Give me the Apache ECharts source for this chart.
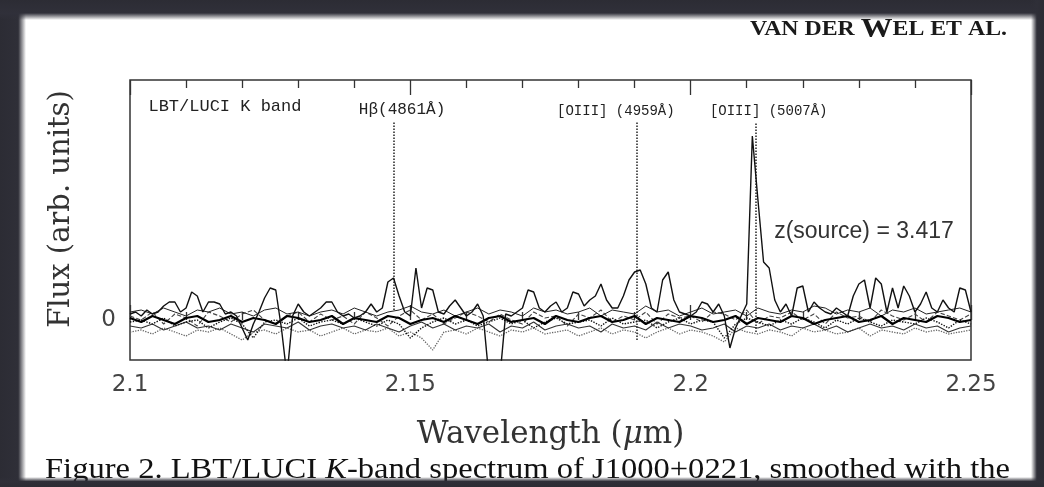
<!DOCTYPE html>
<html>
<head>
<meta charset="utf-8">
<script src="https://cdn.jsdelivr.net/npm/echarts@6/dist/echarts.min.js"></script>
<style>
  html, body { margin: 0; padding: 0; background: #fff; }
  #main { width: 1044px; height: 487px; }
</style>
</head>
<body>
<div id="main"></div>
<script>
// wavelength grids (micron)
var waveMain = Array.from({ length: 151 }, (_, i) => +(2.1 + i * 0.001).toFixed(3));
var waveNoise = Array.from({ length: 76 }, (_, i) => +(2.1 + i * 0.002).toFixed(3));

// main spectrum
var fluxMain = [
  0.15, 0.2, 0.1, 0.25, 0.15, 0.2, 0.35, 0.45, 0.45, 0.2,
  0.3, 0.7, 0.6, 0.2, 0.45, 0.45, 0.4, 0.15, 0.2, 0.1,
  -0.2, -0.5, -0.1, 0.2, 0.55, 0.8, 0.75, -0.2, -1.4, 0.1,
  0.4, 0.2, 0.1, 0.2, 0.3, 0.45, 0.45, 0.2, 0.1, 0.15,
  0.05, 0.1, 0.2, 0.4, 0.2, 0.3, 0.95, 1.05, 0.6, 0.2,
  0.1, 1.3, 0.3, 0.8, 0.75, 0.2, 0.15, 0.35, 0.5, 0.3,
  0.1, 0.2, 0.4, 0.1, -1.4, -1.4, -1.4, 0.15, 0.1, 0.2,
  0.3, 0.75, 0.7, 0.3, 0.2, 0.35, 0.45, 0.2, 0.3, 0.7,
  0.65, 0.35, 0.5, 0.6, 0.9, 0.5, 0.3, 0.3, 0.6, 1.0,
  1.2, 1.25, 0.9, 0.3, 0.2, 1.0, 1.2, 0.5, 0.2, 0.15,
  0.1, 0.2, 0.45, 0.4, 0.2, 0.4, 0.1, -0.7, -0.2, 0.1,
  0.4, 4.6, 3.0, 1.45, 1.3, 0.5, 0.2, 0.4, 0.1, 0.8,
  0.85, 0.2, 0.45, 0.3, 0.2, 0.15, 0.3, 0.2, 0.1, 0.6,
  0.9, 1.0, 0.3, 1.05, 0.9, 0.2, 0.8, 0.3, 0.85, 0.6,
  0.2, 0.4, 0.7, 0.3, 0.2, 0.5, 0.3, 0.2, 0.8, 0.75,
  0.2
];

// the other exposures, all near zero
var fluxN1 = [
  0.2, 0.25, 0.15, 0.3, 0.2, 0.1, 0.25, 0.2, 0.3, 0.15,
  0.2, 0.1, 0.25, 0.3, 0.15, 0.2, 0.1, 0.2, 0.25, 0.15,
  0.3, 0.2, 0.1, 0.2, 0.25, 0.35, 0.2, 0.15, 0.25, 0.1,
  0.2, 0.3, 0.15, 0.25, 0.2, 0.1, 0.3, 0.2, 0.25, 0.15,
  0.2, 0.3, 0.1, 0.25, 0.2, 0.15, 0.35, 0.2, 0.25, 0.1,
  0.2, 0.3, 0.15, 0.2, 0.25, 0.1, 0.3, 0.2, 0.15, 0.25,
  0.2, 0.35, 0.3, 0.15, 0.25, 0.2, 0.3, 0.1, 0.25, 0.2,
  0.3, 0.15, 0.2, 0.25, 0.3, 0.2
];
var fluxN2 = [
  0.05, -0.05, 0.1, 0, -0.1, 0.05, 0.1, -0.05, 0, 0.1,
  -0.05, 0.05, 0, -0.1, 0.1, 0.05, -0.05, 0, 0.1, -0.1,
  0.05, 0, -0.05, 0.1, 0.05, -0.1, 0, 0.05, -0.05, 0.1,
  0, -0.1, 0.05, 0.1, -0.05, 0, 0.05, -0.1, 0.1, 0,
  -0.05, 0.05, 0.1, -0.05, 0, 0.1, -0.1, 0.05, 0, -0.05,
  0.1, 0.05, -0.05, 0, 0.1, -0.1, 0.05, 0, -0.05, 0.1,
  0.05, -0.1, 0, 0.05, 0.1, -0.05, 0, 0.1, -0.1, 0.05,
  0, -0.05, 0.1, 0.05, -0.05, 0
];
var fluxN3 = [
  -0.15, -0.2, -0.1, -0.25, -0.15, -0.05, -0.2, -0.15, -0.25, -0.1,
  -0.2, -0.3, -0.1, -0.15, -0.2, -0.05, -0.25, -0.15, -0.1, -0.2,
  -0.15, -0.25, -0.1, -0.2, -0.3, -0.15, -0.05, -0.2, -0.1, -0.25,
  -0.15, -0.2, -0.1, -0.3, -0.15, -0.2, -0.05, -0.25, -0.15, -0.1,
  -0.2, -0.15, -0.3, -0.1, -0.2, -0.15, -0.25, -0.05, -0.2, -0.1,
  -0.15, -0.25, -0.2, -0.1, -0.3, -0.15, -0.2, -0.1, -0.25, -0.15,
  -0.2, -0.1, -0.25, -0.15, -0.3, -0.2, -0.1, -0.2, -0.15, -0.25,
  -0.1, -0.2, -0.15, -0.3, -0.2, -0.15
];
var fluxN4 = [
  -0.3, -0.25, -0.35, -0.2, -0.3, -0.4, -0.25, -0.3, -0.2, -0.35,
  -0.5, -0.3, -0.25, -0.35, -0.2, -0.3, -0.25, -0.4, -0.3, -0.2,
  -0.35, -0.25, -0.3, -0.2, -0.4, -0.3, -0.45, -0.75, -0.3, -0.25,
  -0.35, -0.2, -0.3, -0.4, -0.25, -0.3, -0.2, -0.35, -0.3, -0.25,
  -0.4, -0.3, -0.2, -0.35, -0.25, -0.3, -0.45, -0.3, -0.2, -0.35,
  -0.25, -0.3, -0.4, -0.55, -0.2, -0.3, -0.35, -0.25, -0.3, -0.4,
  -0.2, -0.3, -0.25, -0.35, -0.3, -0.2, -0.4, -0.25, -0.3, -0.35,
  -0.2, -0.3, -0.25, -0.35, -0.3, -0.25
];
var fluxN5 = [
  0.1, 0, 0.2, -0.1, 0.15, 0.05, -0.15, 0.2, 0.1, -0.05,
  0.15, 0.25, 0, -0.1, 0.1, 0.2, -0.05, 0.15, 0, 0.1,
  -0.1, 0.2, 0.05, -0.15, 0.1, 0.25, 0, 0.15, -0.1, 0.05,
  0.2, 0.1, -0.05, 0.15, 0, -0.1, 0.2, 0.05, 0.1, -0.15,
  0.15, 0.05, 0.25, -0.05, 0.1, 0, 0.2, -0.1, 0.15, 0.05,
  0.1, -0.05, 0.2, 0.15, 0, 0.25, -0.1, 0.1, 0.05, 0.2,
  0, 0.15, -0.1, 0.2, 0.05, 0.1, -0.05, 0.25, 0.1, 0,
  0.15, -0.05, 0.2, 0.1, 0, 0.15
];
var fluxN6 = [
  -0.05, 0, -0.1, 0.05, -0.15, -0.05, 0, -0.2, -0.05, 0.05,
  -0.1, -0.45, -0.05, 0, -0.1, 0.05, -0.15, -0.05, 0, -0.1,
  0.05, -0.05, -0.15, 0, -0.1, -0.45, -0.2, -0.05, 0.05, -0.1,
  0, -0.15, -0.05, 0.05, -0.1, 0, -0.2, -0.05, 0.05, -0.1,
  -0.05, 0, -0.15, 0.05, -0.1, -0.05, 0, -0.2, -0.05, 0.05,
  -0.1, 0, -0.05, -0.45, -0.1, 0.05, -0.05, -0.15, 0, -0.1,
  0.05, -0.05, -0.2, 0, -0.1, 0.05, -0.05, -0.15, 0, -0.05,
  -0.1, 0.05, -0.05, -0.2, 0, -0.1
];

// emission lines at z = 3.417
var lineNames = ['H\u03b2(4861\u00c5)', '[OIII] (4959\u00c5)', '[OIII] (5007\u00c5)'];
var lineWave = [2.1471, 2.1904, 2.2116];
var lineLow = [0.25, -0.5, -0.3];
var lineTop = 4.95;

var monoFont = "'Liberation Mono', 'DejaVu Sans Mono', monospace";
var serifFont = "'DejaVu Serif', 'Liberation Serif', serif";
var paperFont = "'Liberation Serif', 'Times New Roman', serif";

var ctx = document.createElement('canvas').getContext('2d');
function textW(str, font) { ctx.font = font; return ctx.measureText(str).width; }

var capFontN = '30px ' + paperFont;
var capFontI = 'italic 30px ' + paperFont;
var capW = textW('Figure 2. LBT/LUCI ', capFontN) + textW('K', capFontI) +
  textW('-band spectrum of J1000+0221, smoothed with the', capFontN);
var hdW = textW('VAN DER ', 'bold 21px ' + paperFont) + textW('W', 'bold 28px ' + paperFont) +
  textW('EL ET AL.', 'bold 21px ' + paperFont);

function pairs(xs, ys) { return ys.map((y, i) => [xs[i], y]); }

function noise(name, data, color, type, width) {
  return {
    name: name, type: 'line', data: pairs(waveNoise, data),
    showSymbol: false, symbol: 'none', silent: true, z: 3,
    lineStyle: { color: color, type: type, width: width }
  };
}

var chart = echarts.init(document.getElementById('main'), null, { renderer: 'canvas' });

var tickStyle = { color: '#333', width: 1.3 };

var option = {
  animation: false,
  backgroundColor: '#fff',
  grid: { left: 130, right: 73, top: 80, bottom: 127, show: true,
    borderColor: '#333', borderWidth: 1.5, backgroundColor: 'transparent' },
  xAxis: [{
    type: 'value', min: 2.1, max: 2.25, interval: 0.05,
    axisLine: { show: false },
    axisTick: { show: true, inside: true, length: 15, lineStyle: tickStyle },
    minorTick: { show: true, splitNumber: 5, length: 8, lineStyle: tickStyle },
    splitLine: { show: false },
    axisLabel: { margin: 14, fontSize: 23, color: '#444', fontFamily: "'DejaVu Sans', sans-serif",
      formatter: v => String(+v.toFixed(2)) },
    name: 'Wavelength ({i|\u03bc}m)', nameLocation: 'middle', nameGap: 59,
    nameTextStyle: { fontSize: 31, color: '#333', fontFamily: serifFont,
      rich: { i: { fontSize: 31, fontStyle: 'italic', color: '#333', fontFamily: serifFont } } }
  }, {
    type: 'value', position: 'top', min: 2.1, max: 2.25, interval: 0.05,
    axisLine: { show: false },
    axisTick: { show: true, inside: true, length: 15, lineStyle: tickStyle },
    minorTick: { show: true, splitNumber: 5, length: 8, lineStyle: tickStyle },
    splitLine: { show: false },
    axisLabel: { show: false }
  }],
  yAxis: {
    type: 'value', min: -1, max: 6, interval: 1,
    axisLine: { show: false }, axisTick: { show: false }, splitLine: { show: false },
    axisLabel: { margin: 14, fontSize: 23, color: '#444', fontFamily: "'DejaVu Sans', sans-serif",
      formatter: v => (v === 0 ? '0' : '') },
    name: 'Flux (arb. units)', nameLocation: 'middle', nameGap: 54,
    nameTextStyle: { fontSize: 29, color: '#333', fontFamily: serifFont, padding: [0, 0, 0, 22] }
  },
  series: [
    noise('n4', fluxN4, '#666', 'dotted', 1.3),
    noise('n5', fluxN5, '#444', 'dashed', 1.1),
    noise('n3', fluxN3, '#333', 'solid', 1.1),
    noise('n1', fluxN1, '#222', 'solid', 1.0),
    noise('n6', fluxN6, '#111', 'dotted', 1.4),
    noise('n2', fluxN2, '#000', 'solid', 2.2),
    {
      name: 'main', type: 'line', data: pairs(waveMain, fluxMain),
      showSymbol: false, symbol: 'none', z: 5,
      lineStyle: { color: '#111', width: 1.4 },
      markLine: {
        silent: true, symbol: ['none', 'none'], animation: false,
        lineStyle: { type: 'dotted', color: '#222', width: 1.5 },
        label: { show: true, position: 'end', distance: 4, formatter: '{b}',
          fontFamily: monoFont, fontSize: 14, color: '#222' },
        data: lineWave.map((w, i) => [
          { name: lineNames[i], coord: [w, lineLow[i]],
            label: [{ fontSize: 16, offset: [8, 0] }, { offset: [-21, 0] }, { offset: [13, 0] }][i] },
          { coord: [w, lineTop] }
        ])
      },
      markPoint: {
        silent: true, symbol: 'circle', symbolSize: 1, animation: false,
        itemStyle: { color: 'rgba(0,0,0,0)' },
        label: { show: true, position: 'right', distance: 0, formatter: '{b}', color: '#222' },
        data: [
          { name: 'LBT/LUCI K band', coord: [2.1032, 5.33],
            label: { fontFamily: monoFont, fontSize: 17 } },
          { name: 'z(source) = 3.417', coord: [2.2148, 2.2],
            label: { fontFamily: "'Liberation Sans', Arial, sans-serif", fontSize: 23, color: '#333' } }
        ]
      }
    }
  ],
  graphic: [
    { type: 'text', x: 1007, y: 30, scaleX: 257 / hdW, silent: true,
      style: { text: '{s|VAN DER }{b|W}{s|EL ET AL.}', align: 'right', verticalAlign: 'middle',
        fill: '#1a1a1a',
        rich: { s: { fontSize: 21, fontWeight: 'bold', fontFamily: paperFont, fill: '#1a1a1a' },
          b: { fontSize: 28, fontWeight: 'bold', fontFamily: paperFont, fill: '#1a1a1a' } } } },
    { type: 'text', x: 45, y: 470, scaleX: 965 / capW, silent: true,
      style: { text: '{n|Figure 2. LBT/LUCI }{i|K}{n|-band spectrum of J1000+0221, smoothed with the}',
        align: 'left', verticalAlign: 'middle', fill: '#111',
        rich: { n: { fontSize: 30, fontFamily: paperFont, fill: '#111' },
          i: { fontSize: 30, fontStyle: 'italic', fontFamily: paperFont, fill: '#111' } } } },
    // dark frame around the photographed page
    { type: 'rect', z: 100, silent: true, shape: { x: 0, y: 0, width: 26, height: 487 },
      style: { fill: new echarts.graphic.LinearGradient(0, 0, 1, 0, [
        { offset: 0, color: '#2c2c34' }, { offset: 0.7, color: '#2f2f38' }, { offset: 1, color: 'rgba(47,47,56,0)' }]) } },
    { type: 'rect', z: 100, silent: true, shape: { x: 0, y: 0, width: 1044, height: 20 },
      style: { fill: new echarts.graphic.LinearGradient(0, 0, 0, 1, [
        { offset: 0, color: '#2c2c34' }, { offset: 0.65, color: '#30303a' }, { offset: 1, color: 'rgba(48,48,58,0)' }]) } },
    { type: 'rect', z: 100, silent: true, shape: { x: 1031, y: 0, width: 13, height: 487 },
      style: { fill: new echarts.graphic.LinearGradient(0, 0, 1, 0, [
        { offset: 0, color: 'rgba(47,47,56,0)' }, { offset: 0.45, color: '#2f2f38' }, { offset: 1, color: '#2c2c34' }]) } },
    { type: 'rect', z: 100, silent: true, shape: { x: 0, y: 477, width: 1044, height: 10 },
      style: { fill: new echarts.graphic.LinearGradient(0, 0, 0, 1, [
        { offset: 0, color: 'rgba(47,47,56,0)' }, { offset: 0.45, color: '#2f2f38' }, { offset: 1, color: '#2c2c34' }]) } }
  ]
};

chart.setOption(option);
</script>
</body>
</html>
